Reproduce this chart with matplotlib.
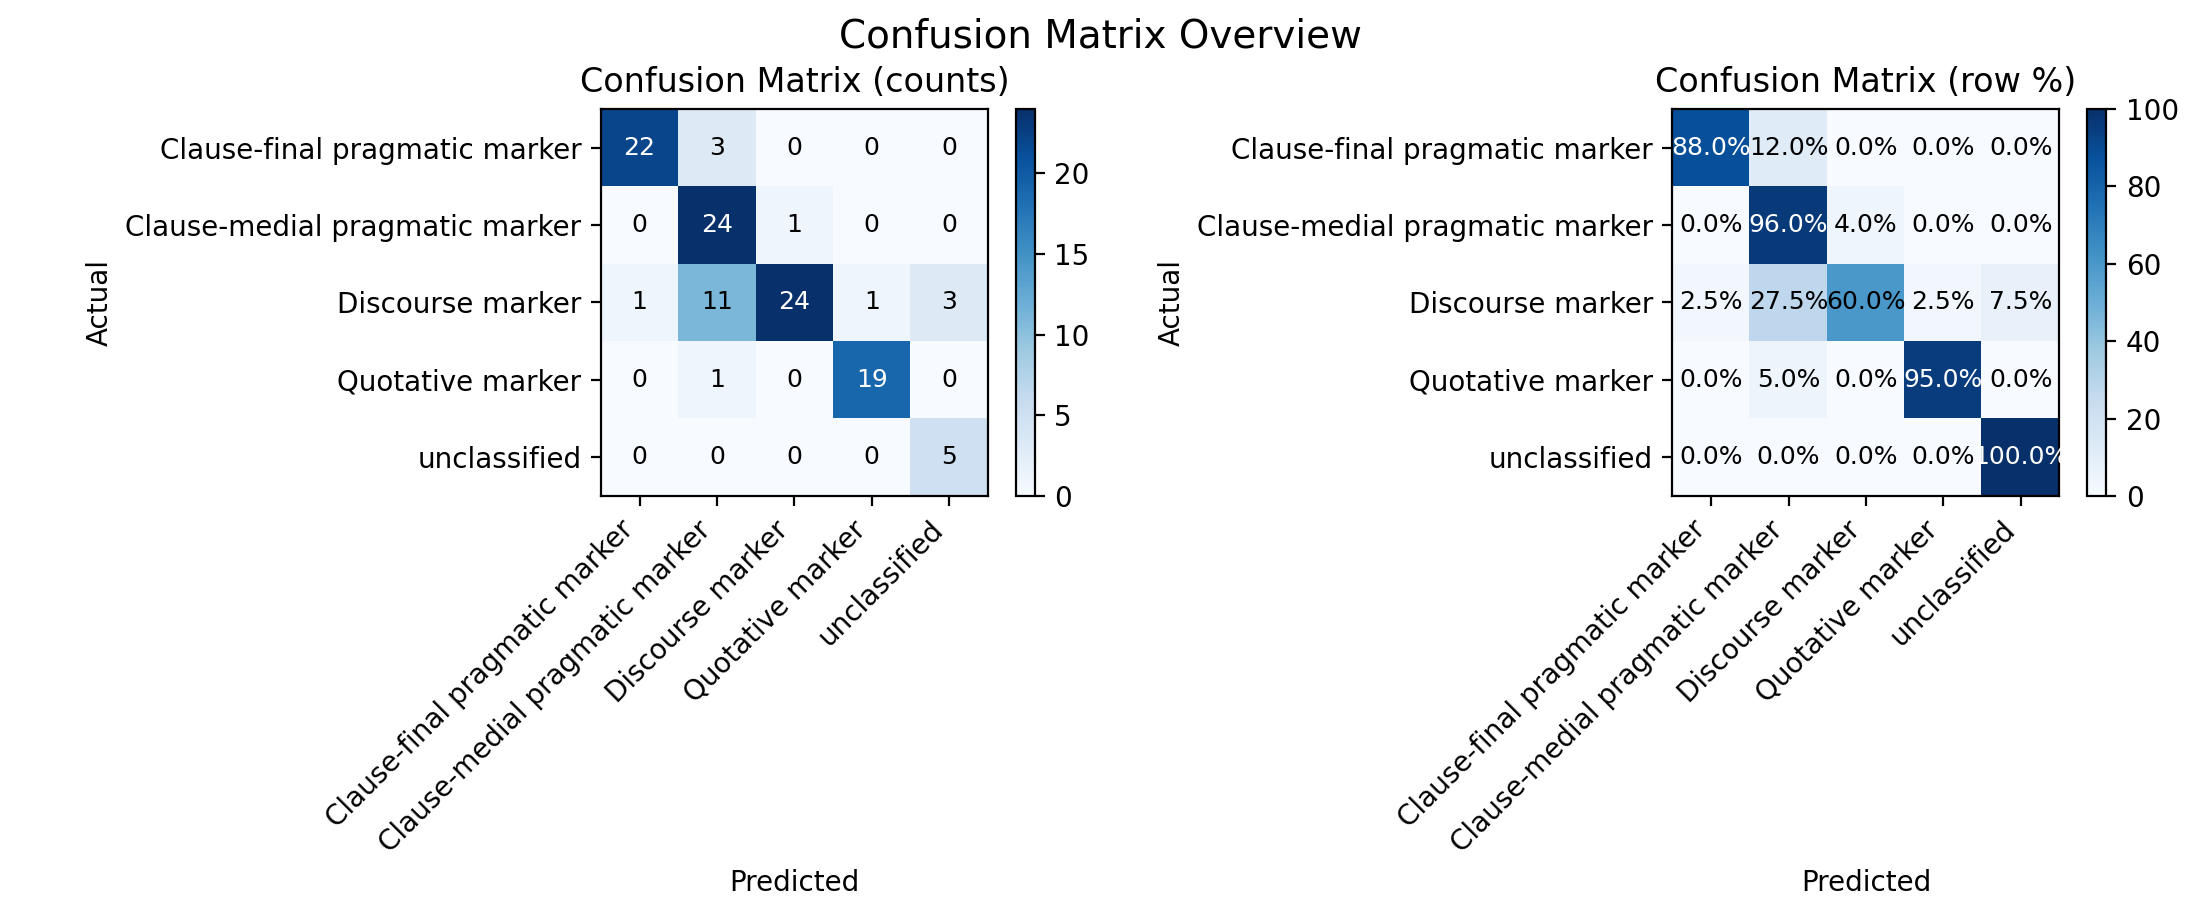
import numpy as np
import matplotlib.pyplot as plt

labels = [
    "Clause-final pragmatic marker",
    "Clause-medial pragmatic marker",
    "Discourse marker",
    "Quotative marker",
    "unclassified",
]

counts = np.array([
    [22, 3, 0, 0, 0],
    [0, 24, 1, 0, 0],
    [1, 11, 24, 1, 3],
    [0, 1, 0, 19, 0],
    [0, 0, 0, 0, 5],
])

row_pct = counts / counts.sum(axis=1, keepdims=True) * 100

fig, axes = plt.subplots(1, 2, figsize=(11, 4.5))

# counts
ax = axes[0]
im = ax.imshow(counts, cmap="Blues")
fig.colorbar(im, ax=ax)
ax.set_title("Confusion Matrix (counts)")
ax.set_xticks(range(len(labels)))
ax.set_yticks(range(len(labels)))
ax.set_xticklabels(labels, rotation=45, ha="right")
ax.set_yticklabels(labels)
ax.set_xlabel("Predicted")
ax.set_ylabel("Actual")
thresh = counts.max() / 2
for i in range(counts.shape[0]):
    for j in range(counts.shape[1]):
        ax.text(j, i, str(counts[i, j]), ha="center", va="center", fontsize=9,
                color="white" if counts[i, j] > thresh else "black")

# row percentages
ax = axes[1]
im = ax.imshow(row_pct, cmap="Blues", vmin=0, vmax=100)
fig.colorbar(im, ax=ax)
ax.set_title("Confusion Matrix (row %)")
ax.set_xticks(range(len(labels)))
ax.set_yticks(range(len(labels)))
ax.set_xticklabels(labels, rotation=45, ha="right")
ax.set_yticklabels(labels)
ax.set_xlabel("Predicted")
ax.set_ylabel("Actual")
for i in range(row_pct.shape[0]):
    for j in range(row_pct.shape[1]):
        ax.text(j, i, f"{row_pct[i, j]:.1f}%", ha="center", va="center", fontsize=9,
                color="white" if row_pct[i, j] > 70 else "black")

fig.suptitle("Confusion Matrix Overview", fontsize=14)
fig.tight_layout(rect=[0, 0.01, 1, 1])
fig.savefig("out.png", dpi=200)
